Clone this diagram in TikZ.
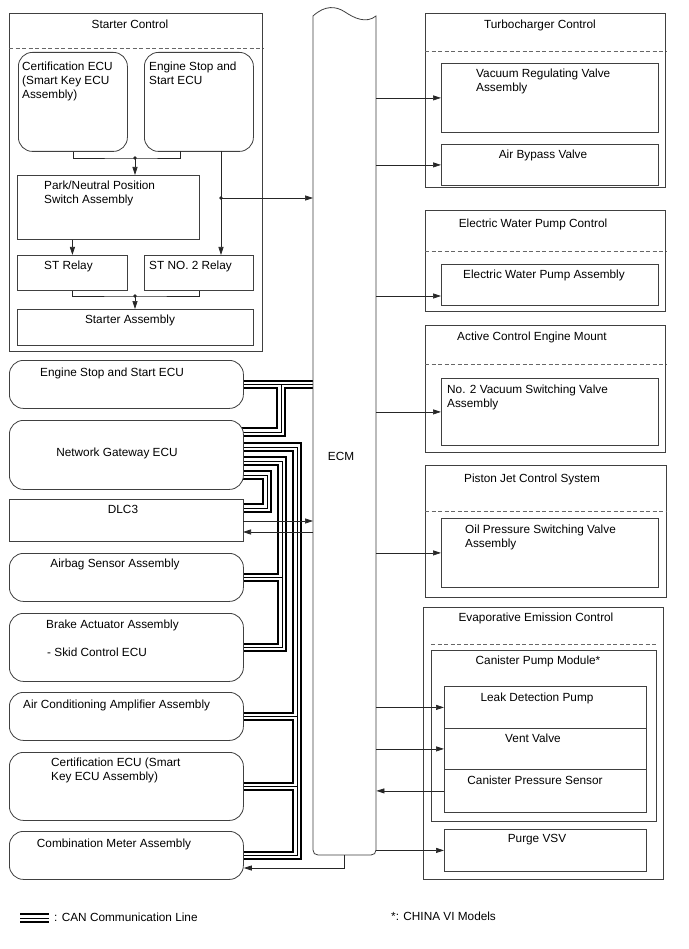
\documentclass[tikz,border=0pt]{standalone}
\usepackage{fontspec}
\setmainfont{Liberation Sans}
\usetikzlibrary{arrows.meta,calc}
\pgfdeclarelayer{back}
\pgfdeclarelayer{bus}
\pgfsetlayers{back,bus,main}
\newcommand{\TL}[4]{\node[txt, anchor=north west] (#1) at (#2,{#3-5.6}) {#4};}
\newcommand{\TC}[4]{\node[ctxt, anchor=north] (#1) at (#2,{#3-5.6}) {#4};}
\tikzset{
 bx/.style={draw=black!75, line width=0.8pt, fill=white, inner sep=0pt, anchor=north west},
 rbx/.style={bx, rounded corners=14pt},
 txt/.style={inner sep=0pt, font=\fontsize{11.8}{14}\selectfont, align=left, execute at begin node=\strut},
 ctxt/.style={txt, align=center},
 ln/.style={draw=black!85, line width=0.7pt},
 arr/.style={ln, -{Triangle[length=8pt,width=5pt]}},
 dsh/.style={draw=black!60, line width=0.7pt, dash pattern=on 4pt off 2.5pt},
}
\begin{document}
\begin{tikzpicture}[x=1pt, y=-1pt]
\begin{pgfonlayer}{back}
\fill[white] (0,0) rectangle (688,949);
\end{pgfonlayer}
\useasboundingbox (0,0) rectangle (688,949);

% ---------- Starter Control ----------
\node[bx, minimum width=253pt, minimum height=338pt] (sc) at (9,13) {};
\draw[dsh] (sc.west |- 0,48) -- (sc.east |- 0,48);
\node[rbx, minimum width=109pt, minimum height=99pt] (cert1) at (18,52) {};
\node[rbx, minimum width=109pt, minimum height=99pt] (ess1) at (144,52) {};
\node[bx, minimum width=182pt, minimum height=64pt] (pnp) at (17,175) {};
\node[bx, minimum width=110pt, minimum height=35pt] (st1) at (17,255) {};
\node[bx, minimum width=109pt, minimum height=35pt] (st2) at (144,255) {};
\node[bx, minimum width=236pt, minimum height=36pt] (sta) at (17,309) {};
\TC{tsc}{130}{24}{Starter Control}
\TL{tcert1}{22}{67}{Certification ECU\\(Smart Key ECU\\Assembly)}
\TL{tess1}{149}{67}{Engine Stop and\\Start ECU}
\TL{tpnp}{44}{186}{Park/Neutral Position\\Switch Assembly}
\TL{tst1}{44}{265}{ST Relay}
\TL{tst2}{149}{265}{ST NO. 2 Relay}
\TC{tsta}{130}{319}{Starter Assembly}

% ---------- ECM ----------
\node[inner sep=0pt, minimum width=63pt, minimum height=839pt, anchor=north west] (ecm) at (313,16) {};
\path[draw=black!75, line width=0.8pt, fill=white] (313,16) .. controls (325,5) and (336,6) .. (345,12)
  .. controls (354,18) and (366,24) .. (376,16) -- (376,850) .. controls (376,853) and (374,855) .. (371,855)
  -- (318,855) .. controls (315,855) and (313,853) .. (313,850) -- cycle;
\TC{tecm}{341}{456}{ECM}

% ---------- left column ----------
\node[rbx, minimum width=234pt, minimum height=48pt] (ess) at (9,360) {};
\node[rbx, minimum width=234pt, minimum height=69pt] (ng) at (9,420) {};
\node[bx, minimum width=234pt, minimum height=42pt] (dlc) at (9,499) {};
\node[rbx, minimum width=234pt, minimum height=48pt] (air) at (9,553) {};
\node[rbx, minimum width=234pt, minimum height=68pt] (brk) at (9,613) {};
\node[rbx, minimum width=234pt, minimum height=48pt] (aca) at (9,692) {};
\node[rbx, minimum width=234pt, minimum height=68pt] (cert2) at (9,752) {};
\node[rbx, minimum width=234pt, minimum height=48pt] (cmb) at (9,831) {};
\TC{tess}{112}{372}{Engine Stop and Start ECU}
\TC{tng}{117}{452}{Network Gateway ECU}
\TC{tdlc}{123}{509}{DLC3}
\TC{tair}{115}{563}{Airbag Sensor Assembly}
\TL{tbrk}{46}{624}{Brake Actuator Assembly}
\TL{tbrk2}{47}{652}{- Skid Control ECU}
\TL{taca}{23}{704}{Air Conditioning Amplifier Assembly}
\TL{tcert2}{51}{763}{Certification ECU (Smart\\Key ECU Assembly)}
\TC{tcmb}{114}{843}{Combination Meter Assembly}

% ---------- right column ----------
\node[bx, minimum width=240pt, minimum height=174pt] (tc) at (425,13) {};
\draw[dsh] (tc.west |- 0,51) -- (tc.east |- 0,51);
\node[bx, minimum width=217pt, minimum height=69pt] (vrv) at (441,63) {};
\node[bx, minimum width=217pt, minimum height=41pt] (abv) at (441,144) {};
\TC{ttc}{540}{24}{Turbocharger Control}
\TL{tvrv}{476}{74}{Vacuum Regulating Valve\\Assembly}
\TC{tabv}{543}{154}{Air Bypass Valve}

\node[bx, minimum width=240pt, minimum height=101pt] (ewc) at (425,210) {};
\draw[dsh] (ewc.west |- 0,251) -- (ewc.east |- 0,251);
\node[bx, minimum width=217pt, minimum height=41pt] (ewp) at (441,264) {};
\TC{tewc}{533}{223}{Electric Water Pump Control}
\TC{tewp}{544}{274}{Electric Water Pump Assembly}

\node[bx, minimum width=240pt, minimum height=127pt] (acm) at (425,325) {};
\draw[dsh] (acm.west |- 0,364) -- (acm.east |- 0,364);
\node[bx, minimum width=217pt, minimum height=67pt] (nvs) at (441,378) {};
\TC{tacm}{532}{336}{Active Control Engine Mount}
\TL{tnvs}{447}{390}{No. 2 Vacuum Switching Valve\\Assembly}

\node[bx, minimum width=241pt, minimum height=132pt] (pjc) at (425,465) {};
\draw[dsh] (pjc.west |- 0,511) -- (pjc.east |- 0,511);
\node[bx, minimum width=217pt, minimum height=69pt] (ops) at (441,518) {};
\TC{tpjc}{532}{478}{Piston Jet Control System}
\TL{tops}{465}{530}{Oil Pressure Switching Valve\\Assembly}

\node[bx, minimum width=240pt, minimum height=272pt] (evc) at (423,607) {};
\coordinate (dv1) at (431,644);
\coordinate (dv2) at (657,644);
\draw[dsh] (dv1) -- (dv2);
\node[bx, line width=1.2pt, minimum width=225pt, minimum height=171pt] (cpm) at (431,650) {};
\node[bx, minimum width=202pt, minimum height=42pt] (ldp) at (444,686) {};
\node[bx, minimum width=202pt, minimum height=41pt] (vv) at (444,728) {};
\node[bx, minimum width=202pt, minimum height=43pt] (cps) at (444,769) {};
\node[bx, minimum width=202pt, minimum height=42pt] (pvsv) at (444,829) {};
\TC{tevc}{536}{617}{Evaporative Emission Control}
\TC{tcpm}{538}{660}{Canister Pump Module*}
\TC{tldp}{537}{697}{Leak Detection Pump}
\TC{tvv}{533}{738}{Vent Valve}
\TC{tcps}{535}{780}{Canister Pressure Sensor}
\TC{tpv}{537}{838}{Purge VSV}

% ---------- starter connectors ----------
\coordinate (e1) at (180,151);
\coordinate (e2) at (221,151);
\coordinate (j1) at (135,158);
\coordinate (j2) at (221,198);
\coordinate (j3) at (135,296);
\draw[ln] (cert1.south) |- (j1) -| (e1);
\draw[arr] (j1) -- (j1 |- pnp.north);
\draw[arr] (e2) -- (e2 |- st2.north);
\draw[arr] (j2) -- (j2 -| ecm.west);
\draw[arr] (st1.north |- pnp.south) -- (st1.north);
\draw[ln] (st1.south) |- (j3) -| (st2.south);
\draw[arr] (j3) -- (j3 |- sta.north);
\fill[black!85] (j1) circle (1.8pt) (j2) circle (1.8pt) (j3) circle (1.8pt);

% ---------- ECM outputs ----------
\coordinate (ew) at (441,296);
\draw[arr] (ecm.east |- vrv.west) -- (vrv.west);
\draw[arr] (ecm.east |- abv.west) -- (abv.west);
\draw[arr] (ecm.east |- ew) -- (ew);
\draw[arr] (ecm.east |- nvs.west) -- (nvs.west);
\draw[arr] (ecm.east |- ops.west) -- (ops.west);
\draw[arr] (ecm.east |- ldp.west) -- (ldp.west);
\draw[arr] (ecm.east |- vv.west) -- (vv.west);
\draw[arr] (cps.west) -- (ecm.east |- cps.west);
\draw[arr] (ecm.east |- pvsv.west) -- (pvsv.west);

% ---------- DLC3 and combination meter ----------
\coordinate (d1) at (243,521);
\coordinate (d2) at (243,532);
\draw[arr] (d1) -- (d1 -| ecm.west);
\draw[arr] (d2 -| ecm.west) -- (d2);
\coordinate (m1) at (344,868);
\draw[arr] (ecm.south -| m1) -- (m1) -- (cmb.east |- m1);

% ---------- CAN buses ----------
\coordinate (b1) at (281,432);
\coordinate (b2) at (297,447);
\coordinate (b3) at (282,461);
\coordinate (b4) at (267,475);
\coordinate (b4d) at (267,508);
\begin{pgfonlayer}{bus}
\foreach \lw/\lc in {9.5/black, 5.3/white, 0.9/black}{
 \draw[line width=\lw pt, draw=\lc, line join=miter]
   ($(ess.east)+(-8pt,0)$) -- ($(ess.east -| ecm.west)+(6pt,0)$)
   (ess.east -| b1) -- (b1) -- ($(ng.east |- b1)+(-8pt,0)$)
   ($(ng.east |- b2)+(-8pt,0)$) -- (b2) -- (b2 |- cmb.east) -- ($(cmb.east)+(-8pt,0)$)
   (b2 |- aca.east) -- ($(aca.east)+(-8pt,0)$)
   (b2 |- cert2.east) -- ($(cert2.east)+(-8pt,0)$)
   ($(ng.east |- b3)+(-8pt,0)$) -- (b3) -- (b3 |- brk.east) -- ($(brk.east)+(-8pt,0)$)
   (b3 |- air.east) -- ($(air.east)+(-8pt,0)$)
   ($(ng.east |- b4)+(-8pt,0)$) -- (b4) -- (b4d) -- ($(dlc.east |- b4d)+(-8pt,0)$);
}
\end{pgfonlayer}

% ---------- legend ----------
\coordinate (lg1) at (20,918);
\coordinate (lg2) at (49,918);
\foreach \lw/\lc in {9.5/black, 5.3/white, 0.9/black}{
 \draw[line width=\lw pt, draw=\lc] (lg1) -- (lg2);
}
\TL{tlg}{54}{917}{: CAN Communication Line}
\TL{tnote}{391}{916}{*: CHINA VI Models}
\end{tikzpicture}
\end{document}
